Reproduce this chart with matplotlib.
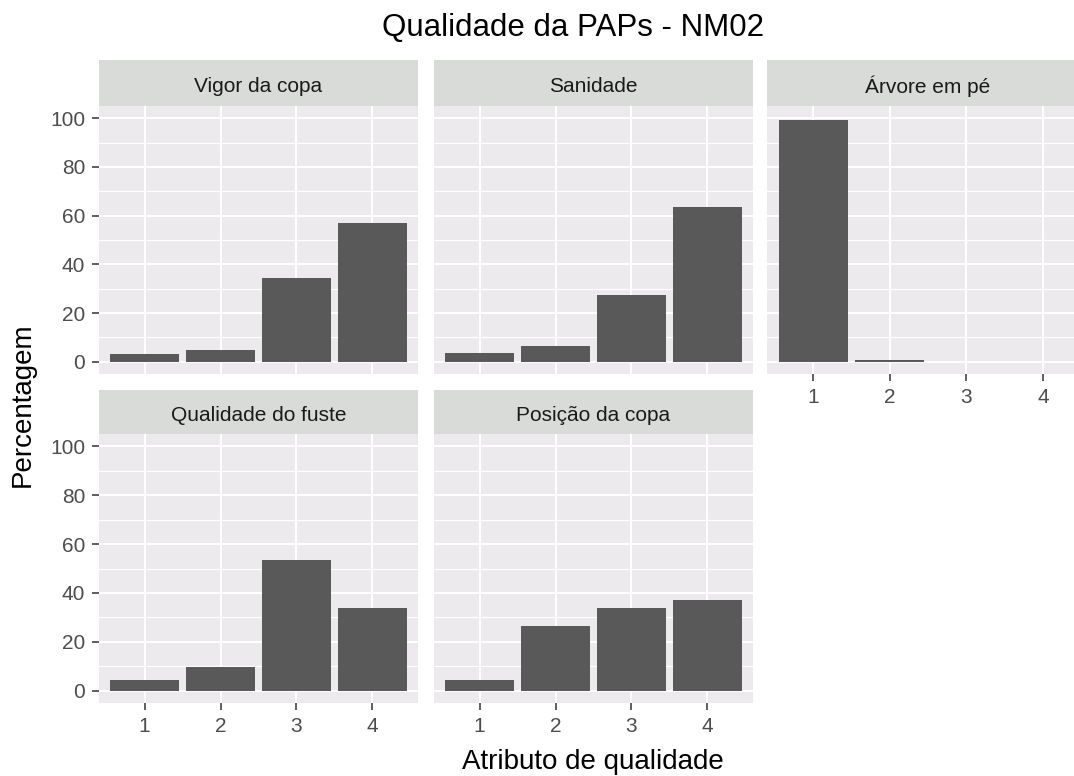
import matplotlib
matplotlib.use("Agg")
import matplotlib.pyplot as plt
import numpy as np

plt.rcParams['font.family'] = ['Liberation Sans', 'DejaVu Sans']

title = "Qualidade da PAPs - NM02"
xlabel = "Atributo de qualidade"
ylabel = "Percentagem"
categories = [1, 2, 3, 4]
facets = ["Vigor da copa", "Sanidade", "Árvore em pé", "Qualidade do fuste", "Posição da copa"]
vigor = [3.4, 4.9, 34.4, 56.9]
sanidade = [3.5, 6.5, 27.4, 63.4]
arvore = [99.2, 0.8, 0.0, 0.0]
fuste = [4.3, 9.9, 53.6, 33.8]
posicao = [4.3, 26.6, 33.8, 37.2]
values = [vigor, sanidade, arvore, fuste, posicao]
yticks = [0, 20, 40, 60, 80, 100]

W, H = 1074, 776
fig = plt.figure(figsize=(W / 100, H / 100), dpi=100)

panel_bg = '#ECEAEC'
strip_bg = '#D8DBD8'
bar_col = '#595959'
tick_col = '#4D4D4D'

# panel boxes in pixels: (left, right) per column, (strip top, panel top, panel bottom) per row
cols = [(99, 418), (434, 753), (767, 1089)]
rows = [(60, 106, 374), (390, 434, 703)]
layout = [(0, 0), (0, 1), (0, 2), (1, 0), (1, 1)]

def fr(l, t, r, b):
    return [l / W, 1 - b / H, (r - l) / W, (b - t) / H]

for i, (ri, ci) in enumerate(layout):
    l, r = cols[ci]
    st, pt, pb = rows[ri]
    ax = fig.add_axes(fr(l, pt, r, pb))
    ax.set_facecolor(panel_bg)
    ax.bar(categories, values[i], width=0.9, color=bar_col, zorder=3)
    ax.set_xlim(0.4, 4.6)
    ax.set_ylim(-5, 105)
    ax.set_yticks(yticks)
    ax.set_yticks([10, 30, 50, 70, 90], minor=True)
    ax.set_xticks(categories)
    ax.grid(which='major', color='white', lw=1.5, zorder=1)
    ax.grid(which='minor', axis='y', color='white', lw=0.8, zorder=1)
    for s in ax.spines.values():
        s.set_visible(False)
    ax.tick_params(axis='both', which='major', length=5, width=1.1, color='#333333',
                   labelsize=15, labelcolor=tick_col, pad=5)
    ax.tick_params(axis='both', which='minor', length=0)
    if ci != 0:
        ax.tick_params(axis='y', left=False, labelleft=False)
    if ri == 0 and ci != 2:
        ax.tick_params(axis='x', bottom=False, labelbottom=False)
    # strip
    sax = fig.add_axes(fr(l, st, r, pt))
    sax.set_facecolor(strip_bg)
    sax.set_xticks([]); sax.set_yticks([])
    for s in sax.spines.values():
        s.set_visible(False)
    sax.text(0.5, 0.42, facets[i], ha='center', va='center', fontsize=15,
             color='#1A1A1A', transform=sax.transAxes)

fig.text(573 / W, 1 - 28 / H, title, ha='center', va='center', fontsize=22.5, color='black')
fig.text(593 / W, 1 - 762 / H, xlabel, ha='center', va='center', fontsize=20, color='black')
fig.text(23 / W, 1 - 405 / H, ylabel, ha='center', va='center', fontsize=20, rotation=90, color='black')

fig.savefig("out.png", dpi=100, facecolor='white')
